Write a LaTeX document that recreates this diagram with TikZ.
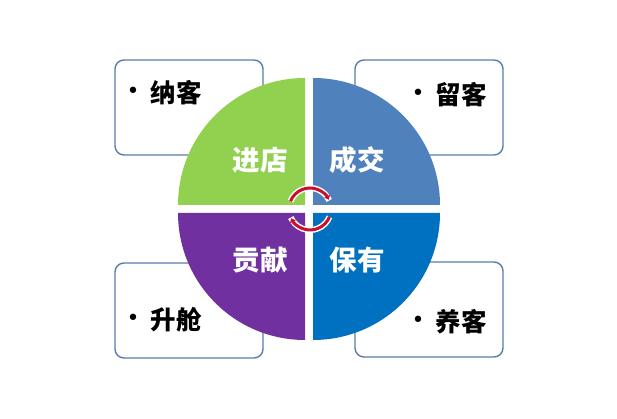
\documentclass[tikz,border=0pt]{standalone}
\usepackage{fontspec}
\newfontfamily\cjk{Noto Sans CJK SC}
\newfontfamily\dejavu{DejaVu Sans}
\usetikzlibrary{arrows.meta}
\definecolor{qgreen}{HTML}{92D050}
\definecolor{qblue}{HTML}{4F81BD}
\definecolor{qdblue}{HTML}{0070C0}
\definecolor{qpurple}{HTML}{7030A0}
\definecolor{boxline}{HTML}{5A7DA8}
\definecolor{arcred}{HTML}{C8102E}
\tikzset{
  infobox/.style={draw=boxline, line width=1.4pt, fill=white, rounded corners=9pt,
    minimum width=148pt, minimum height=95pt, inner sep=0pt},
  boxtext/.style={font=\cjk\bfseries\fontsize{25.5}{25.5}\selectfont, text=black, inner sep=0pt},
  bul/.style={font=\dejavu\fontsize{22}{22}\selectfont, text=black, inner sep=0pt},
  quadtext/.style={font=\cjk\bfseries\fontsize{27.5}{27.5}\selectfont, text=white, inner sep=0pt},
  arcunder/.style={white, line width=6pt},
  arcover/.style={arcred, line width=3pt, -{Triangle[length=4pt,width=6pt]}},
}
\begin{document}
\begin{tikzpicture}[x=1pt,y=1pt]
\useasboundingbox (0,0) rectangle (617,419);
% boxes
\node[infobox] (btl) at (189,311.5) {};
\node[infobox] (btr) at (429,311.5) {};
\node[infobox] (bbl) at (189,108.5) {};
\node[infobox] (bbr) at (429,109.5) {};
% quadrants
\fill[qgreen] (305,214) -- ++(-127,0) arc[start angle=180,end angle=90,radius=127] -- cycle;
\fill[qblue] (313,214) -- ++(127,0) arc[start angle=0,end angle=90,radius=127] -- cycle;
\fill[qpurple] (305,206) -- ++(-127,0) arc[start angle=180,end angle=270,radius=127] -- cycle;
\fill[qdblue] (313,206) -- ++(127,0) arc[start angle=0,end angle=-90,radius=127] -- cycle;
% quadrant labels
\node[quadtext] (q1) at (260,259) {进店};
\node[quadtext] (q2) at (357,259) {成交};
\node[quadtext] (q3) at (260,159) {贡献};
\node[quadtext] (q4) at (357,159) {保有};
% box texts
\node[bul] (d1) at (133,326) {•};
\node[boxtext] (t1) at (176,326) {纳客};
\node[bul] (d2) at (418,324) {•};
\node[boxtext] (t2) at (461,324) {留客};
\node[bul] (d3) at (133,99) {•};
\node[boxtext] (t3) at (176,99) {升舱};
\node[bul] (d4) at (418,97) {•};
\node[boxtext] (t4) at (461,97) {养客};
% circular arrows
\coordinate (c) at (310,210);
\draw[arcunder] ([shift={(158:21)}]c) arc[start angle=158,end angle=24,radius=21];
\draw[arcover] ([shift={(158:21)}]c) arc[start angle=158,end angle=26,radius=21];
\draw[arcunder] ([shift={(-22:21)}]c) arc[start angle=-22,end angle=-156,radius=21];
\draw[arcover] ([shift={(-22:21)}]c) arc[start angle=-22,end angle=-154,radius=21];
\end{tikzpicture}
\end{document}
